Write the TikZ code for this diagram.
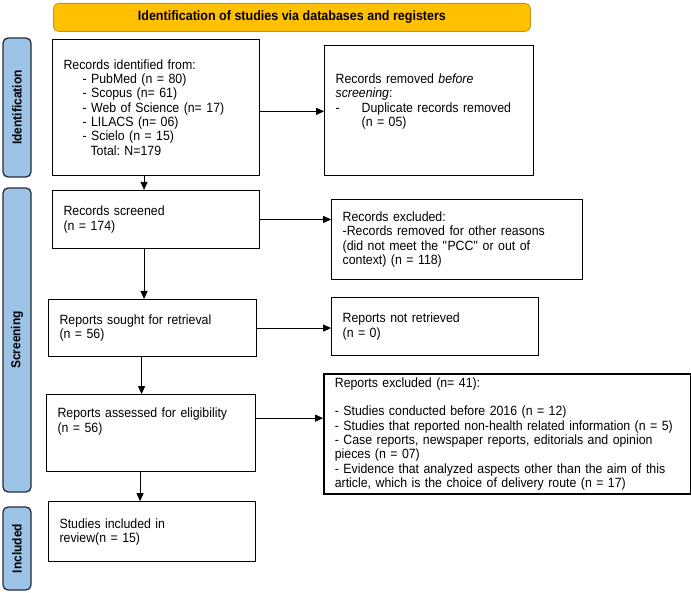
\documentclass[tikz,border=0pt]{standalone}
\usepackage{fontspec}
\setmainfont{Liberation Sans}[FakeStretch=0.92]
\frenchspacing
\usetikzlibrary{arrows.meta,positioning}
\definecolor{bannerorange}{RGB}{255,192,0}
\definecolor{bannerline}{RGB}{196,150,30}
\definecolor{phaseblue}{RGB}{157,195,230}
\definecolor{phaseline}{RGB}{38,44,56}
\tikzset{
  prismabox/.style={
    rectangle,
    draw=black,
    line width=1.1pt,
    align=left,
    inner xsep=11pt,
    inner ysep=3pt,
    font=\fontsize{13.4}{14.3}\selectfont
  },
  banner/.style={
    rectangle,
    rounded corners=5pt,
    fill=bannerorange,
    draw=bannerline,
    line width=0.8pt,
    minimum width=477pt,
    minimum height=28pt,
    inner sep=0pt,
    font=\bfseries\fontsize{13.6}{14}\selectfont
  },
  phase/.style={
    rectangle,
    rounded corners=5pt,
    fill=phaseblue,
    draw=phaseline,
    line width=1.3pt,
    rotate=90,
    minimum height=28pt,
    inner sep=0pt,
    font=\bfseries\fontsize{13}{14}\selectfont
  },
  prismaarrow/.style={
    -{Triangle[length=8pt,width=7pt]},
    line width=0.8pt,
    draw=black
  }
}

\begin{document}
\begin{tikzpicture}[x=1pt,y=-1pt,node distance=14pt and 64pt]
\useasboundingbox (0,0) rectangle (691,593);

% header and phase labels
\node[banner, anchor=north west] (banner) at (53,3) {Identification of studies via databases and registers};
\node[phase, minimum width=139pt] (phaseid) at (17,107.5) {Identification};
\node[phase, minimum width=304pt] (phasescreen) at (17,340) {Screening};
\node[phase, minimum width=83pt] (phaseincl) at (17,548.5) {Included};

% left column
\node[prismabox, text width=185pt, minimum height=136pt, below=7pt of banner.south west, anchor=north west, xshift=-1pt] (identified) {Records identified from:\\
\hspace*{19pt}- PubMed (n = 80)\\
\hspace*{19pt}- Scopus (n= 61)\\
\hspace*{19pt}- Web of Science (n= 17)\\
\hspace*{19pt}- LILACS (n= 06)\\
\hspace*{19pt}- Scielo (n = 15)\\
\hspace*{27pt}Total: N=179};
\node[prismabox, text width=185pt, minimum height=58pt, below=of identified.south west, anchor=north west] (screened) {Records screened\\(n = 174)};
\node[prismabox, text width=186pt, minimum height=57pt, below=50pt of screened.south west, anchor=north west, xshift=-4pt] (sought) {Reports sought for retrieval\\(n = 56)};
\node[prismabox, text width=187pt, minimum height=77pt, below=37pt of sought.south west, anchor=north west, xshift=-2pt] (assessed) {Reports assessed for eligibility\\(n = 56)\\[12pt]\mbox{}};
\node[prismabox, text width=185pt, minimum height=60pt, below=29pt of assessed.south west, anchor=north west, xshift=2pt] (included) {Studies included in\\review(n = 15)};

% right column
\node[prismabox, text width=187pt, minimum height=130pt, right=of identified.north east, anchor=north west, yshift=-6pt] (removed) {Records removed \textit{before}\\
\textit{screening}:\\
\makebox[26pt][l]{-}Duplicate records removed\\
\hspace*{26pt}(n = 05)\\[6pt]\mbox{}};
\node[prismabox, text width=229pt, minimum height=80pt, right=71pt of screened.north east, anchor=north west, yshift=-9pt] (excluded) {Records excluded:\\
-Records removed for other reasons\\
(did not meet the \textquotedbl PCC\textquotedbl{} or out of\\
context) (n = 118)};
\node[prismabox, text width=185pt, minimum height=58pt, right=74pt of sought.north east, anchor=north west, yshift=2pt] (notretrieved) {Reports not retrieved\\(n = 0)};
\node[prismabox, line width=1.5pt, inner ysep=1pt, text width=345pt, minimum height=120pt, right=67pt of assessed.north east, anchor=north west, yshift=21pt] (reportsexcl) {Reports excluded (n= 41):\\[14.3pt]
- Studies conducted before 2016 (n = 12)\\
- Studies that reported non-health related information (n = 5)\\
- Case reports, newspaper reports, editorials and opinion\\
pieces (n = 07)\\
- Evidence that analyzed aspects other than the aim of this\\
article, which is the choice of delivery route (n = 17)};

% connectors
\draw[prismaarrow] ([yshift=-4pt]identified.east) -- ([yshift=-4pt]identified.east -| removed.west);
\draw[prismaarrow] (screened.east) -- (screened.east -| excluded.west);
\draw[prismaarrow] (sought.east) -- (sought.east -| notretrieved.west);
\draw[prismaarrow] ([yshift=15pt]assessed.east) -- ([yshift=15pt]assessed.east -| reportsexcl.west);
\draw[prismaarrow] ([xshift=-12pt]identified.south) -- ([xshift=-12pt]identified.south |- screened.north);
\draw[prismaarrow] ([xshift=-12pt]screened.south) -- ([xshift=-12pt]screened.south |- sought.north);
\draw[prismaarrow] ([xshift=-11pt]sought.south) -- ([xshift=-11pt]sought.south |- assessed.north);
\draw[prismaarrow] ([xshift=-11pt]assessed.south) -- ([xshift=-11pt]assessed.south |- included.north);
\end{tikzpicture}
\end{document}
